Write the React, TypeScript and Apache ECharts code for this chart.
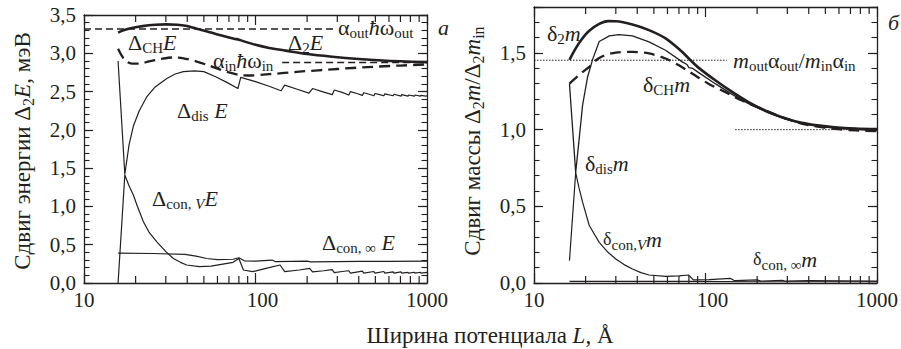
import React, { useEffect, useRef } from "react";
import * as echarts from "echarts";

const FONT = "Liberation Serif, DejaVu Serif, serif";
const INK = "#231f20";

// ---------- left panel (energy shift, meV) : [L (Å), value] ----------
const ALPHA_OUT_E = [[10, 3.316], [297, 3.316]];
const ALPHA_IN_E = [[143, 2.88], [1000, 2.88]];
const D2_E = [
  [15.8, 3.27], [17, 3.3], [19, 3.33], [22, 3.355], [26, 3.372], [30, 3.377], [35, 3.372],
  [39, 3.36], [45, 3.325], [55, 3.27], [65, 3.225], [75, 3.19], [80, 3.178], [84, 3.162],
  [100, 3.11], [120, 3.07], [150, 3.035], [200, 2.99], [280, 2.955], [400, 2.925],
  [550, 2.905], [700, 2.895], [1000, 2.885],
];
const DCH_E = [
  [15.8, 3.06], [16.5, 2.98], [17.5, 2.9], [19, 2.865], [21, 2.865], [24, 2.895], [28, 2.925],
  [33, 2.945], [38, 2.935], [45, 2.895], [52, 2.85], [60, 2.8], [70, 2.75], [80, 2.718],
  [90, 2.71], [120, 2.727], [180, 2.76], [300, 2.795], [450, 2.82], [700, 2.84], [1000, 2.855],
];
const DDIS_E = [
  [15.8, 2.9], [17.3, 1.42], [18.3, 1.8], [19.4, 2.05], [21, 2.25], [23.2, 2.43], [26, 2.56],
  [30.4, 2.67], [34, 2.73], [38, 2.76], [44, 2.77], [50, 2.76], [59, 2.69], [68, 2.62],
  [79, 2.54], [82, 2.685], [100, 2.63], [120, 2.57], [141, 2.51], [148, 2.585], [175, 2.53],
  [205, 2.48], [215, 2.54], [245, 2.5], [280, 2.46], [288, 2.52], [320, 2.49], [350, 2.455],
  [358, 2.5], [390, 2.475], [420, 2.45], [428, 2.485], [460, 2.465], [490, 2.445], [498, 2.475],
  [530, 2.46], [560, 2.445], [568, 2.47], [635, 2.445], [642, 2.465], [705, 2.44], [712, 2.46],
  [775, 2.44], [782, 2.455], [845, 2.44], [852, 2.455], [915, 2.44], [922, 2.45], [985, 2.44],
  [1000, 2.445],
];
const DCONV_E = [
  [15.8, 0], [17.3, 1.41], [18.3, 1.27], [19.4, 1.15], [20.5, 1.0], [22.2, 0.8], [24, 0.66],
  [26.5, 0.54], [30, 0.41], [33.2, 0.32], [36.5, 0.27], [39.7, 0.235], [47, 0.213], [55, 0.22],
  [62, 0.24], [74, 0.27], [80, 0.32], [85, 0.17], [96, 0.148], [115, 0.19], [139, 0.235],
  [148, 0.148], [180, 0.17], [207, 0.19], [215, 0.145], [250, 0.16], [280, 0.175], [288, 0.135],
  [320, 0.15], [350, 0.16], [358, 0.13], [420, 0.155], [428, 0.13], [490, 0.15], [498, 0.13],
  [560, 0.15], [568, 0.13], [635, 0.145], [642, 0.13], [705, 0.145], [712, 0.13], [775, 0.14],
  [782, 0.13], [845, 0.14], [852, 0.13], [915, 0.14], [922, 0.13], [1000, 0.14],
];
const DCONINF_E = [
  [15.8, 0.39], [25, 0.385], [38.8, 0.375], [45, 0.35], [52, 0.32], [60, 0.305], [74, 0.31],
  [80, 0.33], [86, 0.29], [100, 0.285], [125, 0.3], [130, 0.28], [200, 0.285], [210, 0.275],
  [300, 0.28], [400, 0.282], [600, 0.283], [1000, 0.285],
];

// ---------- right panel (mass shift ratio) ----------
const RATIO_M = [[10, 1.453], [133, 1.453]];
const UNIT_M = [[149, 1.0], [1000, 1.0]];
const D2_M = [
  [16.1, 1.455], [17.5, 1.53], [19, 1.59], [21, 1.645], [24, 1.69], [27, 1.708], [30, 1.707],
  [37.5, 1.686], [46.8, 1.649], [58.5, 1.595], [73.2, 1.507], [81.8, 1.453], [91.3, 1.403],
  [114, 1.322], [143, 1.246], [178, 1.18], [233, 1.115], [290, 1.075], [364, 1.045],
  [450, 1.028], [567, 1.016], [750, 1.008], [1000, 1.004],
];
const DCH_M = [
  [16.1, 1.3], [16.8, 1.32], [19.2, 1.376], [21, 1.41], [24, 1.468], [30, 1.503], [37.5, 1.507],
  [46.8, 1.497], [58.5, 1.464], [70, 1.42], [83.6, 1.366], [104, 1.3], [130, 1.246],
  [163, 1.19], [222, 1.126], [290, 1.075], [364, 1.04], [450, 1.02], [567, 1.005],
  [750, 0.995], [1000, 0.99],
];
const DDIS_M = [
  [16.1, 1.3], [17.5, 0.72], [18.3, 0.93], [19.2, 1.16], [20.5, 1.34], [22, 1.46], [24, 1.575],
  [27.5, 1.612], [31.3, 1.62], [37.5, 1.612], [46.8, 1.573], [58.5, 1.518], [73.2, 1.442],
  [78, 1.425], [80, 1.405], [84, 1.4], [91.3, 1.372], [114, 1.3], [143, 1.23], [178, 1.17],
  [233, 1.11], [290, 1.07], [364, 1.04], [450, 1.022], [567, 1.01], [750, 1.0], [1000, 0.995],
];
const DCONV_M = [
  [16.1, 0.146], [17.5, 0.72], [18.3, 0.62], [19.2, 0.527], [21, 0.375], [24, 0.265], [27, 0.2],
  [30, 0.157], [33.5, 0.12], [37.5, 0.091], [42, 0.068], [46.8, 0.052], [58.5, 0.043],
  [70, 0.046], [79.7, 0.052], [85, 0.02], [105, 0.022], [140, 0.03], [148, 0.015], [200, 0.02],
  [210, 0.012], [280, 0.018], [290, 0.012], [400, 0.015], [1000, 0.012],
];
const DCONINF_M = [[16.1, 0.01], [40, 0.01], [80, 0.01], [200, 0.008], [1000, 0.008]];

// minor tick positions of the logarithmic L axis
const MINOR_X = [20, 30, 40, 50, 60, 70, 80, 90, 200, 300, 400, 500, 600, 700, 800, 900];

const RICH: any = {
  r: { fontFamily: FONT, fontSize: 22, lineHeight: 26, fill: INK, color: INK },
  i: { fontFamily: FONT, fontSize: 22, fontStyle: "italic", lineHeight: 26, fill: INK, color: INK },
  d: { fontFamily: FONT, fontSize: 18, lineHeight: 26, fill: INK, color: INK },
  s: { fontFamily: FONT, fontSize: 15, lineHeight: 12, verticalAlign: "bottom", fill: INK, color: INK },
  si: { fontFamily: FONT, fontSize: 15, fontStyle: "italic", lineHeight: 12, verticalAlign: "bottom", fill: INK, color: INK },
  t: { fontFamily: FONT, fontSize: 23, lineHeight: 28, fill: INK, color: INK },
  ti: { fontFamily: FONT, fontSize: 23, fontStyle: "italic", lineHeight: 28, fill: INK, color: INK },
  ts: { fontFamily: FONT, fontSize: 16, lineHeight: 13, verticalAlign: "bottom", fill: INK, color: INK },
};

function note(x: number, y: number, text: string, extra: any = {}) {
  return {
    type: "text",
    x,
    y,
    z: 100,
    silent: true,
    style: { text, rich: RICH, align: "left", verticalAlign: "middle", fill: INK, fontFamily: FONT, ...extra },
  };
}

function xAxes(grid: number) {
  const base = {
    type: "log",
    logBase: 10,
    min: 10,
    max: 1000,
    gridIndex: grid,
    splitLine: { show: false },
    axisLine: { onZero: false, lineStyle: { color: INK, width: 1.3 } },
    axisTick: { inside: true, length: 10, lineStyle: { color: INK, width: 1.2 } },
    axisPointer: { show: false },
  };
  return [
    {
      ...base,
      position: "bottom",
      axisLabel: {
        fontFamily: FONT,
        fontSize: 21,
        color: INK,
        margin: 6,
        formatter: (v: number) => (Math.round(v) === 100 ? "{sh|100}" : String(Math.round(v))),
        rich: { sh: { fontFamily: FONT, fontSize: 21, color: INK, padding: [0, 0, 0, 14] } },
      },
    },
    { ...base, position: "top", axisLabel: { show: false } },
  ];
}

function yAxes(grid: number, max: number) {
  const fmt = (v: number) =>
    Math.abs(v * 2 - Math.round(v * 2)) < 1e-6 ? v.toFixed(1).replace(".", ",") : "";
  const major = {
    type: "value",
    gridIndex: grid,
    min: 0,
    max,
    interval: 0.5,
    splitLine: { show: false },
    axisLine: { show: true, onZero: false, lineStyle: { color: INK, width: 1.3 } },
    axisTick: { inside: true, length: 9, lineStyle: { color: INK, width: 1.2 } },
    axisPointer: { show: false },
  };
  const minor = {
    type: "value",
    gridIndex: grid,
    min: 0,
    max,
    interval: 0.1,
    splitLine: { show: false },
    axisLine: { show: false, onZero: false },
    axisLabel: { show: false },
    axisTick: { inside: true, length: 5.5, lineStyle: { color: INK, width: 1.1 } },
    axisPointer: { show: false },
  };
  return [
    {
      ...major,
      position: "left",
      axisLabel: { fontFamily: FONT, fontSize: 21, color: INK, margin: 8, formatter: fmt },
    },
    { ...minor, position: "left" },
    { ...major, position: "right", axisLabel: { show: false } },
    { ...minor, position: "right" },
  ];
}

function line(data: number[][], xi: number, yi: number, width: number, type: any = "solid", smooth: any = false) {
  return {
    type: "line",
    data,
    xAxisIndex: xi,
    yAxisIndex: yi,
    symbol: "none",
    showSymbol: false,
    smooth,
    silent: true,
    z: 5,
    lineStyle: { color: INK, width, type, cap: "butt", join: "round" },
  };
}

function minorTicks(xi: number, yi: number) {
  return {
    type: "custom",
    xAxisIndex: xi,
    yAxisIndex: yi,
    clip: false,
    silent: true,
    z: 10,
    data: MINOR_X.map((v) => [v, 0.5]),
    renderItem: (params: any, api: any) => {
      const cs = params.coordSys;
      const px = api.coord([api.value(0), api.value(1)])[0];
      const st = { stroke: INK, lineWidth: 1.2 };
      const bottom = cs.y + cs.height;
      return {
        type: "group",
        children: [
          { type: "line", shape: { x1: px, y1: bottom, x2: px, y2: bottom - 7 }, style: st },
          { type: "line", shape: { x1: px, y1: cs.y, x2: px, y2: cs.y + 7 }, style: st },
        ],
      };
    },
  };
}

export default function App() {
  const ref = useRef<HTMLDivElement>(null);
  useEffect(() => {
    const chart = echarts.init(ref.current!, null, { renderer: "svg" });
    const option: any = {
      animation: false,
      backgroundColor: "#ffffff",
      textStyle: { fontFamily: FONT },
      grid: [
        { left: 84, right: 474, top: 15, bottom: 66 },
        { left: 534, right: 22, top: 7, bottom: 66 },
      ],
      xAxis: [...xAxes(0), ...xAxes(1)],
      yAxis: [...yAxes(0, 3.5), ...yAxes(1, 1.8)],
      series: [
        line(ALPHA_OUT_E, 0, 0, 1.5, [7, 4]),
        line(ALPHA_IN_E, 0, 0, 1.5, [7, 4]),
        line(D2_E, 0, 0, 2.6, "solid", 0.3),
        line(DCH_E, 0, 0, 2.3, [11, 6], 0.3),
        line(DDIS_E, 0, 0, 1.2),
        line(DCONV_E, 0, 0, 1.2),
        line(DCONINF_E, 0, 0, 1.2),
        line(RATIO_M, 2, 4, 1, [1.5, 1.5]),
        line(UNIT_M, 2, 4, 1, [1.5, 1.5]),
        line(D2_M, 2, 4, 2.6, "solid", 0.3),
        line(DCH_M, 2, 4, 2.3, [11, 6], 0.3),
        line(DDIS_M, 2, 4, 1.3),
        line(DCONV_M, 2, 4, 1.2),
        line(DCONINF_M, 2, 4, 1.2),
        minorTicks(0, 0),
        minorTicks(2, 4),
      ],
      graphic: [
        // left panel annotations
        note(338, 27, "{r|α}{s|out}{i|ħ}{r|ω}{s|out}"),
        note(288, 42, "{r|Δ}{s|2}{i|E}"),
        note(128, 42, "{r|Δ}{s|CH}{i|E}"),
        note(213, 60, "{r|α}{s|in}{i|ħ}{r|ω}{s|in}"),
        note(177, 110, "{r|Δ}{s|dis}{r| }{i|E}"),
        note(152, 198, "{r|Δ}{s|con, }{si|V}{i|E}"),
        note(322, 242, "{r|Δ}{s|con, ∞}{r| }{i|E}"),
        note(438, 27, "{i|а}"),
        // right panel annotations
        note(547, 33, "{r|δ}{s|2}{i|m}"),
        note(733, 60, "{i|m}{s|out}{r|α}{s|out}{r|/}{i|m}{s|in}{r|α}{s|in}"),
        note(643, 84, "{r|δ}{s|CH}{i|m}"),
        note(585, 163, "{r|δ}{s|dis}{i|m}"),
        note(603, 239, "{d|δ}{s|con,}{si|V}{i|m}"),
        note(753, 259, "{d|δ}{s|con, ∞}{i|m}"),
        note(888, 22, "{i|б}"),
        // axis titles
        {
          type: "text",
          x: 22,
          y: 151,
          rotation: Math.PI / 2,
          silent: true,
          style: {
            text: "{t|Сдвиг энергии Δ}{ts|2}{ti|E}{t|, мэВ}",
            rich: RICH,
            align: "center",
            verticalAlign: "middle",
            fill: INK,
            fontFamily: FONT,
          },
        },
        {
          type: "text",
          x: 472,
          y: 141,
          rotation: Math.PI / 2,
          silent: true,
          style: {
            text: "{t|Сдвиг массы Δ}{ts|2}{ti|m}{t|/Δ}{ts|2}{ti|m}{ts|in}",
            rich: RICH,
            align: "center",
            verticalAlign: "middle",
            fill: INK,
            fontFamily: FONT,
          },
        },
        {
          type: "text",
          x: 490,
          y: 335,
          silent: true,
          style: {
            text: "{t|Ширина потенциала }{ti|L}{t|, Å}",
            rich: RICH,
            align: "center",
            verticalAlign: "middle",
            fill: INK,
            fontFamily: FONT,
          },
        },
      ],
    };
    chart.setOption(option);
    return () => chart.dispose();
  }, []);
  return (
    <div
      ref={ref}
      style={{ position: "fixed", left: 0, top: 0, width: 901, height: 349, background: "#fff" }}
    />
  );
}
